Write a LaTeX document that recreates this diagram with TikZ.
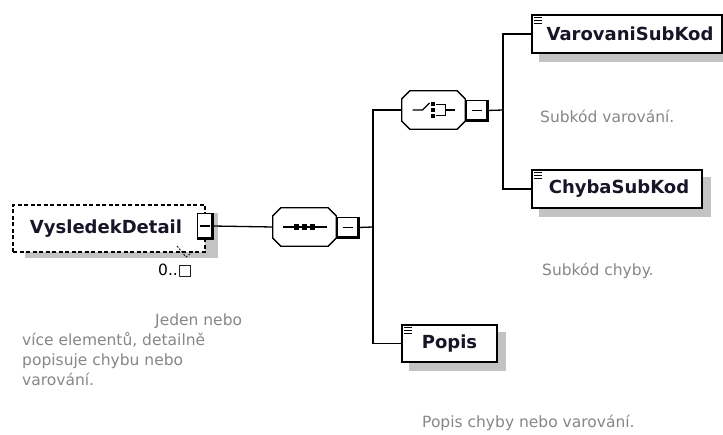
\documentclass[tikz,border=0pt]{standalone}
\usepackage{fontspec}
\setmainfont{DejaVu Sans}
\usetikzlibrary{calc}
\definecolor{cmt}{RGB}{135,135,135}
\definecolor{shd}{RGB}{195,195,195}
\definecolor{lbl}{RGB}{22,22,40}
\tikzset{
  conn/.style={line width=1.3pt},
  elem/.style={draw=black, line width=1.4pt, fill=white, inner sep=0pt,
    font=\fontsize{18}{20}\selectfont\bfseries, text=lbl},
  dbox/.style={draw=black, dashed, dash pattern=on 4pt off 2.5pt, line width=1.2pt, fill=white,
    inner sep=0pt, minimum width=192pt, minimum height=47pt,
    font=\fontsize{18}{20}\selectfont\bfseries, text=lbl},
  cbox/.style={draw=none, inner sep=0pt, minimum width=63pt, minimum height=38pt},
  mbox/.style={draw=black, line width=1pt, fill=white, inner sep=0pt,
    minimum width=21pt, minimum height=19pt},
  cmtxt/.style={inner sep=0pt, text=cmt, font=\fontsize{15.5}{20}\selectfont},
  occtxt/.style={inner sep=0pt, text=black, font=\fontsize{15.5}{18}\selectfont},
}
\newcommand\octshape[1]{%
  \fill[shd, shift={(8,8)}] ($(#1.north west)+(0,8)$) -- ($(#1.north west)+(8,0)$) -- ($(#1.north east)+(-8,0)$) -- ($(#1.north east)+(0,8)$) -- ($(#1.south east)+(0,-8)$) -- ($(#1.south east)+(-8,0)$) -- ($(#1.south west)+(8,0)$) -- ($(#1.south west)+(0,-8)$) -- cycle;
  \draw[line width=1.3pt, fill=white] ($(#1.north west)+(0,8)$) -- ($(#1.north west)+(8,0)$) -- ($(#1.north east)+(-8,0)$) -- ($(#1.north east)+(0,8)$) -- ($(#1.south east)+(0,-8)$) -- ($(#1.south east)+(-8,0)$) -- ($(#1.south west)+(8,0)$) -- ($(#1.south west)+(0,-8)$) -- cycle;}
\newcommand\minusmark[1]{%
  \draw[line width=2.6pt] (#1.north east) -- (#1.south east) -- (#1.south west);
  \draw[line width=1.1pt] ([xshift=-5pt]#1.center) -- ([xshift=5pt]#1.center);}
\newcommand\shadowof[2]{%
  \fill[shd] ([shift={(#2,#2)}]#1.north west) rectangle ([shift={(#2,#2)}]#1.south east);}
\begin{document}
\begin{tikzpicture}[x=1pt,y=-1pt]
\useasboundingbox (0,0) rectangle (723,435);
\fill[white] (0,0) rectangle (723,435);

% ---------- node placement ----------
\node[dbox] (vd) at (109,228.5) {VysledekDetail\hspace*{6pt}};
\node[cbox] (seq) at (304.5,227) {};
\node[cbox] (ch) at (433.5,110) {};
\node[elem, minimum width=190pt, minimum height=38pt] (vs) at (627,34) {\hspace*{6pt}VarovaniSubKod};
\node[elem, minimum width=170pt, minimum height=38pt] (cs) at (617,189) {\hspace*{4pt}ChybaSubKod};
\node[elem, minimum width=95pt, minimum height=37pt] (po) at (449.5,343.5) {Popis};

% ---------- connectors ----------
\coordinate (jA) at (373,227);
\coordinate (jB) at (503,110);

% shadows (drawn first)
\fill[shd] (25,213) rectangle (218,258);
\shadowof{vs}{8}
\shadowof{cs}{8}
\shadowof{po}{8}

% redraw element boxes on top of shadows
\node[dbox] (vd) at (109,228.5) {VysledekDetail\hspace*{6pt}};
\node[mbox, minimum width=15pt, minimum height=24pt] (vdm) at (204.5,226) {};
\minusmark{vdm}
\draw[dashed, dash pattern=on 2pt off 1.5pt, line width=0.8pt] (177,246) -- (186,257) -- (194,251);
\node[occtxt, anchor=west] (occ) at (158,271) {0..□};

\octshape{seq}
\node[mbox] (seqm) at (347.5,227.5) {};
\minusmark{seqm}
\draw[line width=1.2pt] ([xshift=-22pt]seq.center) -- ([xshift=22pt]seq.center);
\foreach \dx in {-8,0,8} \fill ([xshift=\dx pt]seq.center) +(-2.6,-2.6) rectangle +(2.6,2.6);

\octshape{ch}
\node[mbox] (chm) at (476.5,110.5) {};
\minusmark{chm}
\begin{scope}[shift={(ch.center)}]
  \draw[line width=1.2pt] (-21,0) -- (-11,0) -- (-4,-7);
  \foreach \dy in {-6,0,6} \fill (-0.5,\dy) +(-2.1,-2.1) rectangle +(2.1,2.1);
  \draw[line width=1.2pt] (2,-5.5) -- (12,-5.5) -- (12,5.5) -- (2,5.5);
  \draw[line width=1.2pt] (12,0) -- (21,0);
\end{scope}

\node[elem, minimum width=190pt, minimum height=38pt] (vs) at (627,34) {\hspace*{6pt}VarovaniSubKod};
\node[elem, minimum width=170pt, minimum height=38pt] (cs) at (617,189) {\hspace*{4pt}ChybaSubKod};
\node[elem, minimum width=95pt, minimum height=37pt] (po) at (449.5,343.5) {Popis};
\foreach \n in {vs,cs,po} {
  \foreach \d in {0,2.6,5.2} \draw[line width=0.9pt] ([shift={(3,3.5+\d)}]\n.north west) -- ++(8,0);
}

\draw[conn] (vdm.east) -- (seq.west);
\draw[conn] (seqm.east) -- (jA);
\draw[conn] (ch.west) -| (jA) |- (po.west);
\draw[conn] (chm.east) -- (jB);
\draw[conn] (vs.west) -| (jB) |- (cs.west);

% ---------- comments ----------
\node[cmtxt, anchor=west] (c1) at (540,116) {Subkód varování.};
\node[cmtxt, anchor=west] (c2) at (542,271) {Subkód chyby.};
\node[cmtxt, anchor=north west, align=left] (c4) at (22,314) {\hspace*{133pt}Jeden nebo\\více elementů, detailně\\popisuje chybu nebo\\varování.};
\node[cmtxt, anchor=west] (c3) at (422,423) {Popis chyby nebo varování.};
\end{tikzpicture}
\end{document}
